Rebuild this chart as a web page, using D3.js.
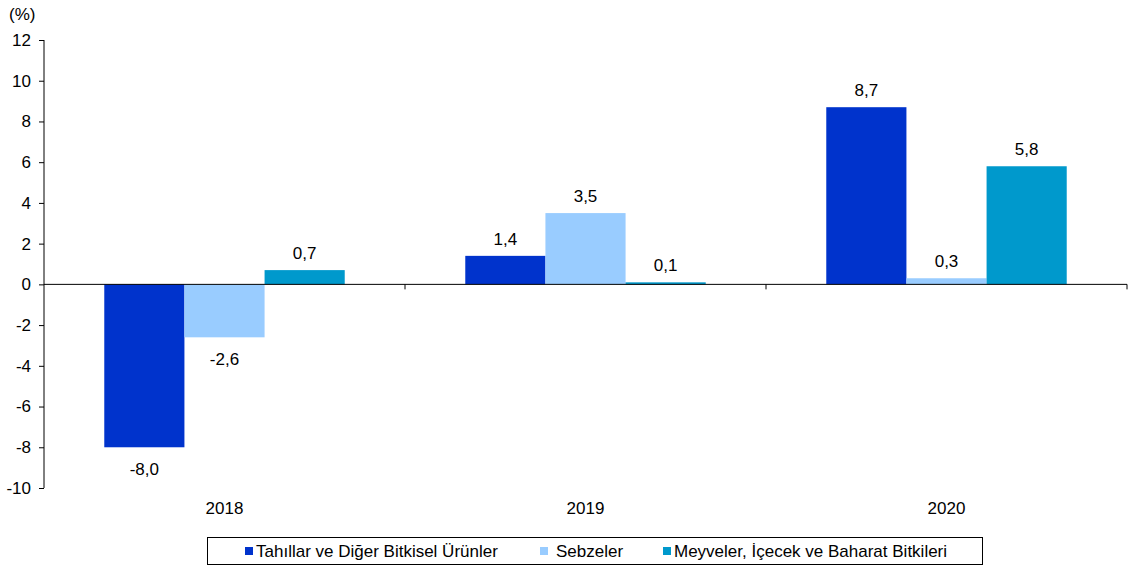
<html lang="tr">
<head>
    <meta charset="UTF-8">
    <title>Bitkisel ürünler</title>
    <script src="https://d3js.org/d3.v7.min.js"></script>
    <style>
        body { margin: 0; background: #fff; }
        text { font-family: "Liberation Sans", Arial, sans-serif; fill: #000; }
    </style>
</head>
<body>
    <div id="chart"></div>
    <script>
        var years = ["2018", "2019", "2020"];
        var seriesNames = ["Tahıllar ve Diğer Bitkisel Ürünler", "Sebzeler", "Meyveler, İçecek ve Baharat Bitkileri"];
        var tahillar = [-8.0, 1.4, 8.7];
        var sebzeler = [-2.6, 3.5, 0.3];
        var meyveler = [0.7, 0.1, 5.8];
        var yTicks = [12, 10, 8, 6, 4, 2, 0, -2, -4, -6, -8, -10];
        var colors = ["#0033cc", "#99ccff", "#0099cc"];

        var width = 1129, height = 567;
        var plotLeft = 44, plotRight = 1127, plotTop = 40, plotBottom = 488;
        var series = [tahillar, sebzeler, meyveler];
        var fs = "17px";

        var svg = d3.select("#chart").append("svg")
            .attr("width", width)
            .attr("height", height);

        var y = d3.scaleLinear().domain([-10, 12]).range([plotBottom, plotTop]);
        var x = d3.scaleBand().domain(years).range([plotLeft, plotRight]);
        var xs = d3.scaleBand().domain(d3.range(3)).range([0, x.bandwidth()]).paddingInner(0).paddingOuter(0.752);

        var fmt = function(v) { return d3.format(".1f")(v).replace(".", ",").replace("\u2212", "-"); };

        // bars
        series.forEach(function(vals, si) {
            svg.append("g").selectAll("rect")
                .data(vals)
                .enter()
                .append("rect")
                .attr("x", function(d, i) { return x(years[i]) + xs(si); })
                .attr("y", function(d) { return y(Math.max(0, d)); })
                .attr("width", xs.bandwidth())
                .attr("height", function(d) { return Math.abs(y(d) - y(0)); })
                .attr("fill", colors[si]);

            svg.append("g").selectAll("text")
                .data(vals)
                .enter()
                .append("text")
                .attr("x", function(d, i) { return x(years[i]) + xs(si) + xs.bandwidth() / 2; })
                .attr("y", function(d) { return d >= 0 ? y(d) - 11 : y(d) + 28; })
                .attr("text-anchor", "middle")
                .style("font-size", fs)
                .text(function(d) { return fmt(d); });
        });

        // y axis
        var yAxis = d3.axisLeft(y).tickValues(yTicks).tickSize(5).tickPadding(8)
            .tickFormat(function(d) { return String(d).replace("\u2212", "-"); });
        var gy = svg.append("g").attr("transform", "translate(" + plotLeft + ",0)").call(yAxis);
        gy.select(".domain").attr("d", "M0," + y(12) + "V" + y(-10)).attr("stroke", "#000");
        gy.selectAll("text").style("font-size", fs).style("font-family", "Liberation Sans, Arial, sans-serif");
        gy.selectAll(".tick line").attr("stroke", "#000");

        // x axis at zero
        var xAxis = d3.axisBottom(x).tickSize(0).tickFormat("");
        var gx = svg.append("g").attr("transform", "translate(0," + y(0) + ")").call(xAxis);
        gx.select(".domain").attr("d", "M" + plotLeft + ",0H" + plotRight).attr("stroke", "#000");
        gx.selectAll(".tick").remove();
        gx.selectAll(".sep")
            .data(years)
            .enter()
            .append("line")
            .attr("x1", function(d) { return x(d) + x.bandwidth(); })
            .attr("x2", function(d) { return x(d) + x.bandwidth(); })
            .attr("y1", 0).attr("y2", 5)
            .attr("stroke", "#000");

        // category labels
        svg.append("g").selectAll("text")
            .data(years)
            .enter()
            .append("text")
            .attr("x", function(d) { return x(d) + x.bandwidth() / 2; })
            .attr("y", 514)
            .attr("text-anchor", "middle")
            .style("font-size", fs)
            .text(function(d) { return d; });

        svg.append("text").attr("x", 9).attr("y", 20).style("font-size", fs).text("(%)");

        // legend
        var lg = svg.append("g");
        lg.append("rect").attr("x", 207.5).attr("y", 537.5).attr("width", 775).attr("height", 27)
            .attr("fill", "#fff").attr("stroke", "#000");
        var legX = [245, 540, 663];
        seriesNames.forEach(function(n, i) {
            lg.append("rect").attr("x", legX[i]).attr("y", 547).attr("width", 8).attr("height", 8).attr("fill", colors[i]);
            lg.append("text").attr("x", legX[i] + (i === 1 ? 16 : 11)).attr("y", 557).style("font-size", fs).text(n);
        });
    </script>
</body>
</html>
